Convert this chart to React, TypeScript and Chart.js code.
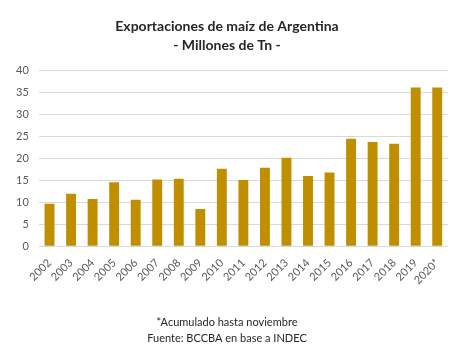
import React, { useEffect, useRef } from "react";
import { Chart, registerables } from "chart.js";

Chart.register(...registerables);

const years = ["2002","2003","2004","2005","2006","2007","2008","2009","2010","2011","2012","2013","2014","2015","2016","2017","2018","2019","2020*"];
const exports = [9.7, 12.0, 10.8, 14.6, 10.6, 15.2, 15.4, 8.5, 17.7, 15.1, 17.9, 20.2, 16.0, 16.8, 24.5, 23.8, 23.4, 36.2, 36.2];
const titleLines = ["Exportaciones de maíz de Argentina", "- Millones de Tn -"];
const footLines = ["*Acumulado hasta noviembre", "Fuente: BCCBA en base a INDEC"];

export default function App() {
  const ref = useRef<HTMLCanvasElement>(null);
  useEffect(() => {
    document.body.style.margin = "0";
    const font = "Lato, 'Open Sans', sans-serif";
    const chart = new Chart(ref.current!, {
      type: "bar",
      data: {
        labels: years,
        datasets: [{ data: exports, backgroundColor: "#BF8F00", categoryPercentage: 1, barPercentage: 0.46 }],
      },
      options: {
        animation: false,
        responsive: false,
        layout: { padding: { left: 6, right: 19, top: 13, bottom: 8 } },
        plugins: {
          legend: { display: false },
          tooltip: { enabled: false },
          title: {
            display: true,
            text: titleLines,
            color: "#262626",
            font: { family: font, size: 14, weight: "bold", lineHeight: 1.35 },
            padding: { top: 4, bottom: 16 },
          },
          subtitle: {
            display: true,
            position: "bottom",
            text: footLines,
            color: "#262626",
            font: { family: font, size: 11, lineHeight: 1.5 },
            padding: { top: 25, bottom: 0 },
          },
        },
        scales: {
          x: {
            grid: { display: false },
            border: { display: false },
            ticks: { color: "#595959", font: { family: font, size: 11 }, minRotation: 45, maxRotation: 45, autoSkip: false, padding: 2 },
          },
          y: {
            min: 0,
            max: 40,
            grid: { color: "#d9d9d9", drawTicks: false },
            border: { display: false },
            ticks: { stepSize: 5, color: "#595959", font: { family: font, size: 11 }, padding: 10 },
          },
        },
      },
    });
    return () => chart.destroy();
  }, []);
  return <canvas ref={ref} width={467} height={355} style={{ display: "block" }} />;
}
